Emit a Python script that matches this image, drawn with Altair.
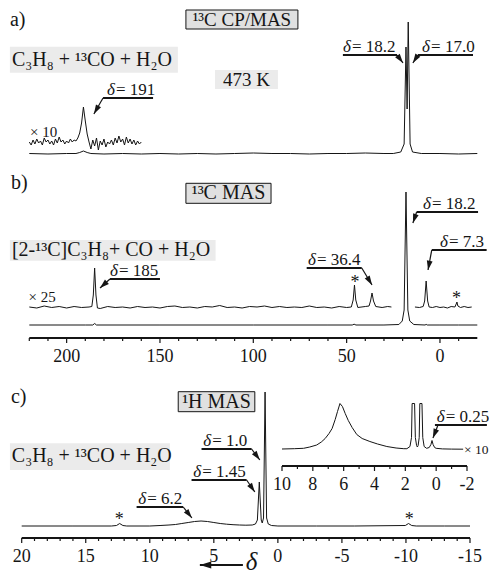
import math
import altair as alt
import pandas as pd

FONT = "Liberation Serif"
INK = "#151515"
FRAMED_FILL = "#e0e0e0"
PLAIN_FILL = "#ebebeb"

# ---------------- spectra: (chemical shift ppm, intensity) ----------------
a_main = [(220, 0.5), (210, 0), (200, 0.5), (195, 0.5), (193, 1.5), (191, 3), (189, 1.5), (187, 0.5),
          (180, 0), (170, 0.5), (160, 0), (150, 0.5), (140, 0), (130, 0.5), (120, 0), (110, 0.5),
          (100, 1), (90, 0.5), (80, 0.5), (70, 0), (60, 0.5), (50, 0.5), (40, 1), (30, 0.5), (25, 0.5),
          (21, 2), (19.2, 10), (18.2, 107), (17.6, 45), (17.0, 132), (16.0, 10), (14.7, 2), (10, 0.5),
          (0, 0.5), (-10, 0), (-20, 0.5)]
a_x10 = [(220, 12), (219, 9), (218, 14), (217, 10), (216, 15), (215, 11), (214, 13), (213, 9), (212, 16),
         (211, 12), (210, 14), (209, 10), (208, 13), (207, 9), (206, 15), (205, 11), (204, 17), (203, 12),
         (202, 14), (201, 10), (200, 13), (199, 11), (198, 15), (197, 12), (196, 14), (195, 13), (194, 16),
         (193, 21), (192, 31), (191, 47), (190, 33), (189, 20), (188, 12), (187, 5), (186, 14), (185, 8),
         (184, 16), (183, 4), (182, 13), (181, 9), (180, 15), (179, 7), (178, 12), (177, 10), (176, 14),
         (175, 9), (174, 16), (173, 11), (172, 18), (171, 12), (170, 15), (169, 9), (168, 17), (167, 11),
         (166, 15), (165, 10), (164, 14), (163, 9), (162, 13), (161, 10), (160, 12)]
b_main = [(220, 0), (190, 0), (186, 0), (185, 1.5), (184, 0), (150, 0), (100, 0), (60, 0), (47, 0),
          (46, 0.8), (45, 0), (30, 0), (22, 0.5), (20.2, 4), (19.2, 15), (18.2, 133), (17.2, 15),
          (16.2, 4), (14, 0.5), (8, 0), (7.4, 0.6), (6.8, 0), (0, 0), (-10, 0), (-20, 0)]
b_x25_left = [(220, 18), (216, 17), (212, 19), (208, 17.5), (204, 18.5), (200, 17), (196, 18.5),
              (192, 17.5), (188, 18), (186.5, 18.5), (185.7, 30), (185, 57), (184.3, 30), (183.5, 17),
              (182, 16.5), (178, 18.5), (174, 17.5), (170, 18), (166, 17), (162, 18.5), (158, 17.5),
              (154, 18), (150, 17), (146, 18.5), (142, 19), (138, 17.5), (134, 18), (130, 17),
              (126, 18.5), (122, 18), (118, 19.5), (114, 17.5), (110, 18), (106, 17), (102, 18.5),
              (98, 18), (94, 19), (90, 17.5), (86, 18.5), (82, 17.5), (78, 18), (74, 17.5), (70, 19),
              (66, 17.5), (62, 18), (58, 17), (54, 18.5), (50, 17.5), (47.5, 18), (46.5, 25), (45.8, 40),
              (45.1, 25), (44, 17.5), (40, 18.5), (38, 19), (37.2, 24), (36.4, 32), (35.6, 24),
              (34.4, 18.5), (31, 17.5), (28, 18.5), (26, 18)]
b_x25_right = [(13.4, 18), (11, 17.5), (9, 18.5), (8.2, 24), (7.4, 44), (6.6, 24), (5.8, 18), (4, 17.5),
               (2, 18.5), (0, 17.5), (-2, 18), (-4, 17), (-6, 18.5), (-8, 18), (-8.7, 21), (-9.1, 23),
               (-9.6, 19), (-11, 17.5), (-13, 18.5), (-15, 17.5), (-17, 18)]
c_main = [(20, 0), (16, 0), (13, 0), (12.6, 0.5), (12.35, 2.5), (12.1, 0.5), (11.8, 0), (10, 0),
          (9.2, 0.5), (8.5, 1), (8, 1.5), (7.5, 2.5), (7, 3.5), (6.5, 4.5), (6, 5), (5.5, 4.5), (5, 3.5),
          (4.5, 2.5), (4, 1.8), (3.5, 1.3), (3, 1), (2.5, 0.8), (2, 1), (1.75, 2), (1.6, 6), (1.45, 44),
          (1.3, 6), (1.22, 3), (1.12, 8), (1.0, 134), (0.88, 8), (0.75, 2), (0.5, 0.5), (0, 0), (-3, 0),
          (-6, 0), (-9.95, 0.5), (-10.2, 2.5), (-10.45, 0.5), (-10.8, 0), (-13, 0), (-15, 0)]
c_inset = [(10, 0.5), (9.2, 0.8), (8.6, 1.2), (8.2, 2.5), (7.75, 4.5), (7.45, 7.5), (7.2, 11), (6.95, 16),
           (6.75, 21), (6.55, 30), (6.4, 38), (6.24, 46), (6.08, 43), (5.9, 36), (5.7, 29), (5.45, 22),
           (5.15, 15), (4.8, 11), (4.3, 8), (3.8, 5.5), (3.2, 3), (2.6, 1.5), (2.1, 0.8), (1.9, 0.8),
           (1.7, 3), (1.6, 12), (1.56, 46), (1.4, 46), (1.35, 12), (1.27, 4), (1.22, 2.5), (1.17, 4),
           (1.1, 12), (1.06, 46), (0.92, 46), (0.87, 12), (0.78, 3), (0.62, 1.2), (0.45, 2), (0.34, 5),
           (0.27, 9), (0.2, 5), (0.1, 2), (0, 1.2), (-0.4, 0.6), (-1, 0.4), (-1.75, 0.3)]

# ---------------- labels: (text, ppm, intensity) ----------------
a_big_text = [("a)", 230.4, 134), ("C₃H₈ + ¹³CO + H₂O", 229.3, 94)]
a_center_text = [("¹³C CP/MAS", 106.1, 134), ("473 K", 103.7, 74.5)]
a_small_text = [("× 10", 219.6, 22)]
b_big_text = [("b)", 229.8, 142), ("[2-¹³C]C₃H₈+ CO + H₂O", 229.3, 75)]
b_center_text = [("¹³C MAS", 113.3, 131.7)]
b_small_text = [("× 25", 220.4, 27.7)]
b_stars = [("*", 45.5, 37), ("*", -8.9, 21.5)]
c_big_text = [("c)", 20.84, 129), ("C₃H₈ + ¹³CO + H₂O", 20.77, 70)]
c_center_text = [("¹H MAS", 4.79, 124.3)]
c_stars = [("*", 12.39, 1), ("*", -10.25, 1)]
c_axis_symbol = [("δ", 2.5, -43.5)]
i_small_text = [("× 10", -1.8, 0)]

# boxes: (ppm from, ppm to, intensity from, intensity to)
a_framed = [(136.1, 76.1, 144, 125)]
a_plain = [(230.4, 140.4, 107.3, 81.3), (120.5, 86.8, 84, 65)]
b_framed = [(136.1, 90.5, 141.7, 121.7)]
b_plain = [(230.4, 120.2, 85, 64.3)]
c_framed = [(7.78, 1.80, 134.3, 114.3)]
c_plain = [(20.92, 8.43, 82.7, 56)]

# peak annotations: (shift, text ppm, underline from, underline to, underline level,
#                    arrow start ppm, arrow start level, arrow tip ppm, arrow tip level)
a_notes = [("18.2", 52.0, 52.0, 23.0, 99, 23.0, 99, 19.8, 91),
           ("17.0", 9.6, 11.8, -17.7, 99, 11.8, 99, 14.5, 91),
           ("191", 178.4, 180.5, 153.7, 56, 180.5, 56, 185.4, 40)]
b_notes = [("185", 176.8, 176.8, 150.0, 46, 176.8, 46, 182.1, 37),
           ("36.4", 70.7, 71.4, 41.9, 57, 41.9, 57, 36.4, 40),
           ("18.2", 9.1, 12.5, -20.4, 113, 12.5, 113, 14.5, 102),
           ("7.3", 0.0, 4.4, -25.0, 75, 4.4, 75, 6.4, 55)]
c_notes = [("1.0", 5.83, 5.96, 2.05, 77, 2.05, 77, 1.41, 66),
           ("1.45", 6.61, 6.74, 2.44, 46, 2.44, 46, 1.80, 34),
           ("6.2", 10.91, 11.03, 7.39, 19, 7.39, 19, 6.71, 8)]
i_notes = [("0.25", -0.03, 0.08, -3.29, 24.5, -0.12, 24.5, 0.21, 11.5)]
c_direction_arrow = [(2.73, -39, 6.09, -39)]

# axis ticks (every tick) and the spacing of the labelled ones
ab_ticks = list(range(220, -11, -10))
c_ticks = list(range(20, -16, -1))
i_ticks = list(range(10, -3, -1))
AB_MAJOR, C_MAJOR, I_MAJOR = 50, 5, 2

# ---------------- layout / scales ----------------
W, H = 481, 568
Y_DOM = [0, 100]
AB_DOM, AB_RNG = [220, -20], [21.3, 469.3]
A_YR = [146, 46]
B_YR = [317, 217]
C_DOM, C_RNG = [20, -15], [13.7, 462]
C_YR = [518, 418]
I_DOM, I_RNG = [10, -2], [274, 459]
I_YR = [441.5, 341.5]
# level (in each panel's intensity units) at which its shift axis is drawn
B_AXIS_LEVEL, C_AXIS_LEVEL, I_AXIS_LEVEL = -13, -12, -16.5
MAJOR_TICK, MINOR_TICK, LABEL_GAP = 5, 3, 19

ARROW = "M0,0L-0.75,2.4L0.75,2.4Z"


def scale(dom, rng):
    return alt.Scale(domain=dom, range=rng, zero=False, nice=False)


def slope(dom, rng):
    return (rng[1] - rng[0]) / (dom[1] - dom[0])


def heading(p0, v0, p1, v1, kx, ky):
    dx = (p1 - p0) * kx
    dy = (v1 - v0) * ky
    return math.degrees(math.atan2(dx, -dy)) % 360


def X(f, sx):
    return alt.X(f"{f}:Q", scale=sx, axis=None)


def Y(f, sy):
    return alt.Y(f"{f}:Q", scale=sy, axis=None)


def shift_axis(ticks, major, dom, level, sx, sy, yr):
    unit = abs(slope(Y_DOM, yr))  # px per intensity unit
    tk = pd.DataFrame({"t": ticks})
    tk["is_major"] = tk["t"] % major == 0
    tk["lvl"] = level
    tk["end"] = level - tk["is_major"].map({True: MAJOR_TICK, False: MINOR_TICK}) / unit
    lab = tk[tk["is_major"]].copy()
    lab["txt"] = lab["t"].map(lambda v: str(int(v)))
    lab["lv"] = level - LABEL_GAP / unit
    dm = pd.DataFrame({"lo": [dom[0]], "hi": [dom[1]], "lvl": [level]})
    domain = alt.Chart(dm).mark_rule(color=INK, strokeWidth=2).encode(
        x=X("lo", sx), x2="hi:Q", y=Y("lvl", sy))
    ticks_m = alt.Chart(tk).mark_rule(color=INK, strokeWidth=1.2).encode(
        x=X("t", sx), y=Y("lvl", sy), y2="end:Q")
    labels = alt.Chart(lab).mark_text(font=FONT, fontSize=18, align="center", baseline="middle",
                                      color=INK).encode(x=X("t", sx), y=Y("lv", sy), text="txt:N")
    return [domain, ticks_m, labels]


def line(data, sx, sy, detail=False):
    if detail:
        df = pd.concat([pd.DataFrame(d, columns=["ppm", "val"]).assign(seg=i) for i, d in enumerate(data)])
    else:
        df = pd.DataFrame(data, columns=["ppm", "val"])
    enc = {"x": X("ppm", sx), "y": Y("val", sy)}
    if detail:
        enc["detail"] = alt.Detail("seg:N")
    return alt.Chart(df).mark_line(color=INK, strokeWidth=1).encode(**enc)


def text(rows, sx, sy, size, align="left", baseline="middle", style="normal"):
    df = pd.DataFrame(rows, columns=["txt", "ppm", "val"])
    return alt.Chart(df).mark_text(font=FONT, fontSize=size, align=align, baseline=baseline,
                                   fontStyle=style, color=INK).encode(
        x=X("ppm", sx), y=Y("val", sy), text="txt:N")


def boxes(rows, sx, sy, fill, framed):
    df = pd.DataFrame(rows, columns=["x0", "x1", "y0", "y1"])
    return alt.Chart(df).mark_rect(fill=fill, stroke=INK if framed else fill,
                                   strokeWidth=1 if framed else 0).encode(
        x=X("x0", sx), x2="x1:Q", y=Y("y0", sy), y2="y1:Q")


def arrows(rows, sx, sy, kx, ky, width=1.2, size=60):
    df = pd.DataFrame(rows, columns=["a0", "ay0", "a1", "ay1"])
    df["ang"] = [heading(r.a0, r.ay0, r.a1, r.ay1, kx, ky) for r in df.itertuples()]
    base = alt.Chart(df)
    shaft = base.mark_rule(color=INK, strokeWidth=width).encode(
        x=X("a0", sx), x2="a1:Q", y=Y("ay0", sy), y2="ay1:Q")
    head = base.mark_point(shape=ARROW, filled=True, size=size, color=INK, opacity=1, strokeWidth=0).encode(
        x=X("a1", sx), y=Y("ay1", sy), angle=alt.Angle("ang:Q", scale=None))
    return [shaft, head]


def notes(rows, sx, sy, kx, ky):
    df = pd.DataFrame(rows, columns=["lab", "tx", "u0", "u1", "uy", "a0", "ay0", "a1", "ay1"])
    df["txt"] = "= " + df["lab"]
    base = alt.Chart(df)
    underline = base.mark_rule(color=INK, strokeWidth=1.8).encode(
        x=X("u0", sx), x2="u1:Q", y=Y("uy", sy))
    delta = base.mark_text(font=FONT, fontSize=17, fontStyle="italic", align="left",
                           baseline="alphabetic", dy=-3, color=INK).encode(
        x=X("tx", sx), y=Y("uy", sy), text=alt.value("δ"))
    value = base.mark_text(font=FONT, fontSize=17, align="left", baseline="alphabetic",
                           dx=9, dy=-3, color=INK).encode(
        x=X("tx", sx), y=Y("uy", sy), text="txt:N")
    arr = arrows([(r[5], r[6], r[7], r[8]) for r in rows], sx, sy, kx, ky)
    return [underline, delta, value] + arr


# ---------------- panel a ----------------
sx_ab = scale(AB_DOM, AB_RNG)
sy_a = scale(Y_DOM, A_YR)
kx_ab = slope(AB_DOM, AB_RNG)
panel_a = alt.layer(
    boxes(a_plain, sx_ab, sy_a, PLAIN_FILL, False),
    boxes(a_framed, sx_ab, sy_a, FRAMED_FILL, True),
    line(a_main, sx_ab, sy_a),
    line(a_x10, sx_ab, sy_a),
    text(a_big_text, sx_ab, sy_a, 20),
    text(a_center_text, sx_ab, sy_a, 19, align="center"),
    text(a_small_text, sx_ab, sy_a, 15),
    *notes(a_notes, sx_ab, sy_a, kx_ab, slope(Y_DOM, A_YR)),
)

# ---------------- panel b ----------------
sy_b = scale(Y_DOM, B_YR)
panel_b = alt.layer(
    boxes(b_plain, sx_ab, sy_b, PLAIN_FILL, False),
    boxes(b_framed, sx_ab, sy_b, FRAMED_FILL, True),
    line(b_main, sx_ab, sy_b),
    line([b_x25_left, b_x25_right], sx_ab, sy_b, detail=True),
    text(b_big_text, sx_ab, sy_b, 20),
    text(b_center_text, sx_ab, sy_b, 20, align="center"),
    text(b_small_text, sx_ab, sy_b, 15),
    text(b_stars, sx_ab, sy_b, 18, align="center", baseline="alphabetic"),
    *notes(b_notes, sx_ab, sy_b, kx_ab, slope(Y_DOM, B_YR)),
    *shift_axis(ab_ticks, AB_MAJOR, AB_DOM, B_AXIS_LEVEL, sx_ab, sy_b, B_YR),
)

# ---------------- panel c ----------------
sx_c = scale(C_DOM, C_RNG)
sy_c = scale(Y_DOM, C_YR)
kx_c, ky_c = slope(C_DOM, C_RNG), slope(Y_DOM, C_YR)
panel_c = alt.layer(
    boxes(c_plain, sx_c, sy_c, PLAIN_FILL, False),
    boxes(c_framed, sx_c, sy_c, FRAMED_FILL, True),
    line(c_main, sx_c, sy_c),
    text(c_big_text, sx_c, sy_c, 20),
    text(c_center_text, sx_c, sy_c, 20, align="center"),
    text(c_stars, sx_c, sy_c, 18, align="center", baseline="alphabetic"),
    text(c_axis_symbol, sx_c, sy_c, 25, baseline="alphabetic", style="italic"),
    *notes(c_notes, sx_c, sy_c, kx_c, ky_c),
    *arrows(c_direction_arrow, sx_c, sy_c, kx_c, ky_c, width=2, size=90),
    *shift_axis(c_ticks, C_MAJOR, C_DOM, C_AXIS_LEVEL, sx_c, sy_c, C_YR),
)

# ---------------- inset of panel c ----------------
sx_i = scale(I_DOM, I_RNG)
sy_i = scale(Y_DOM, I_YR)
panel_i = alt.layer(
    line(c_inset, sx_i, sy_i),
    text(i_small_text, sx_i, sy_i, 13.5),
    *notes(i_notes, sx_i, sy_i, slope(I_DOM, I_RNG), slope(Y_DOM, I_YR)),
    *shift_axis(i_ticks, I_MAJOR, I_DOM, I_AXIS_LEVEL, sx_i, sy_i, I_YR),
)

chart = alt.layer(panel_a, panel_b, panel_c, panel_i).resolve_scale(
    x="independent", y="independent"
).properties(
    width=W, height=H, padding=0, background="white",
    autosize=alt.AutoSizeParams(type="none"),
).configure_view(stroke=None)

chart.save("out.html", embed_options={"renderer": "svg", "actions": False})
